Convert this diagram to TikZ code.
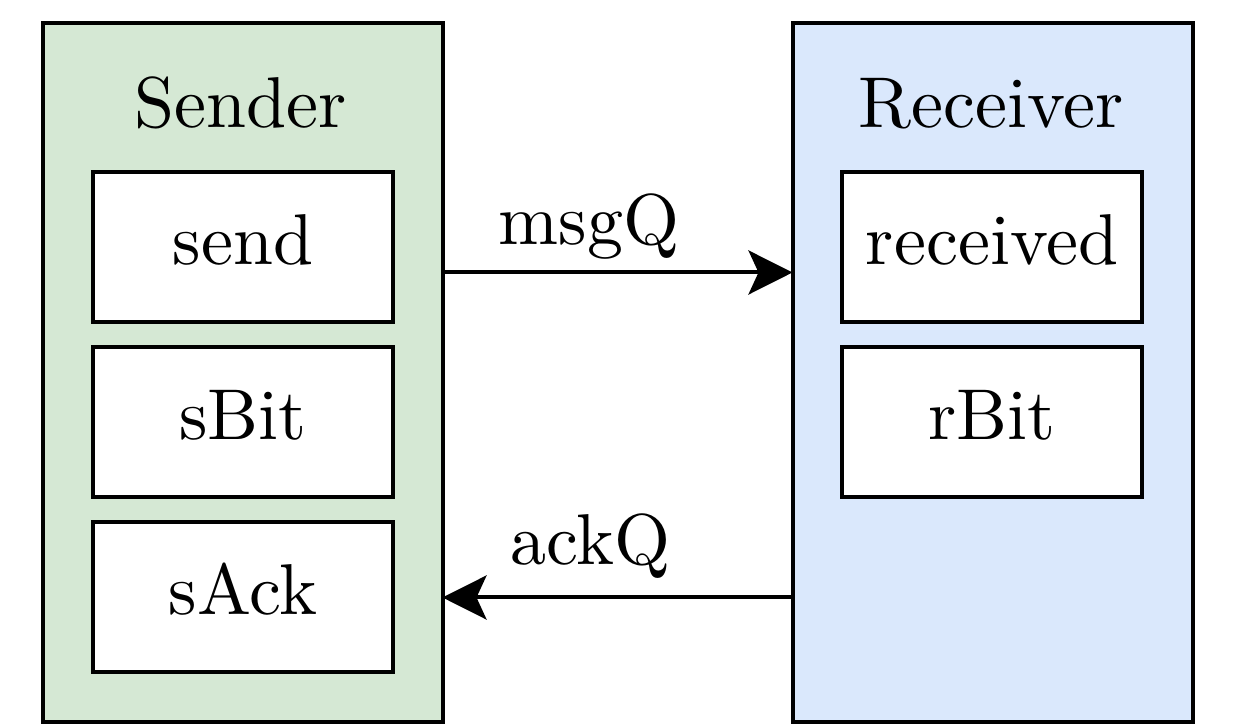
\documentclass[tikz,border=0pt]{standalone}
\usepackage{fontspec}
\newfontfamily\lmten{lmroman10-regular.otf}
\usetikzlibrary{arrows.meta}
\definecolor{sgreen}{HTML}{D5E8D4}
\definecolor{rblue}{HTML}{DAE8FC}
\begin{document}
\begin{tikzpicture}[x=0.25pt,y=-0.25pt,
  font=\lmten\fontsize{18}{21}\selectfont,
  outerbox/.style={draw, line width=1pt, minimum width=100pt, minimum height=174.75pt, inner sep=0pt, outer sep=0pt},
  innerbox/.style={draw, fill=white, line width=1pt, minimum width=75pt, minimum height=37.5pt, inner sep=0pt, outer sep=0pt, text height=12pt, text depth=3.25pt},
  title/.style={anchor=base, inner sep=0pt},
  lbl/.style={anchor=base, inner sep=0pt},
  arr/.style={line width=1pt, -{Stealth[length=11pt, width=11pt, inset=2.5pt]}}]
\useasboundingbox (0,0) rectangle (1255,725);
\node[outerbox, fill=sgreen] (sender) at (242.5,372.5) {};
\node[outerbox, fill=rblue] (receiver) at (992.5,372.5) {};
\node[title] (stitle) at (241,128) {Sender};
\node[title] (rtitle) at (991,128) {Receiver};
\node[innerbox] (send) at (243,247.5) {send};
\node[innerbox] (sbit) at (243,422) {sBit};
\node[innerbox] (sack) at (243,597) {sAck};
\node[innerbox] (received) at (992,247.5) {received};
\node[innerbox] (rbit) at (992,422) {rBit};
\draw[arr] ([yshift=25pt]sender.east) -- ([yshift=25pt]receiver.west);
\draw[arr] ([yshift=-56.25pt]receiver.west) -- ([yshift=-56.25pt]sender.east);
\node[lbl] (msgq) at (589,245) {msgQ};
\node[lbl] (ackq) at (590,565) {ackQ};
\end{tikzpicture}
\end{document}
